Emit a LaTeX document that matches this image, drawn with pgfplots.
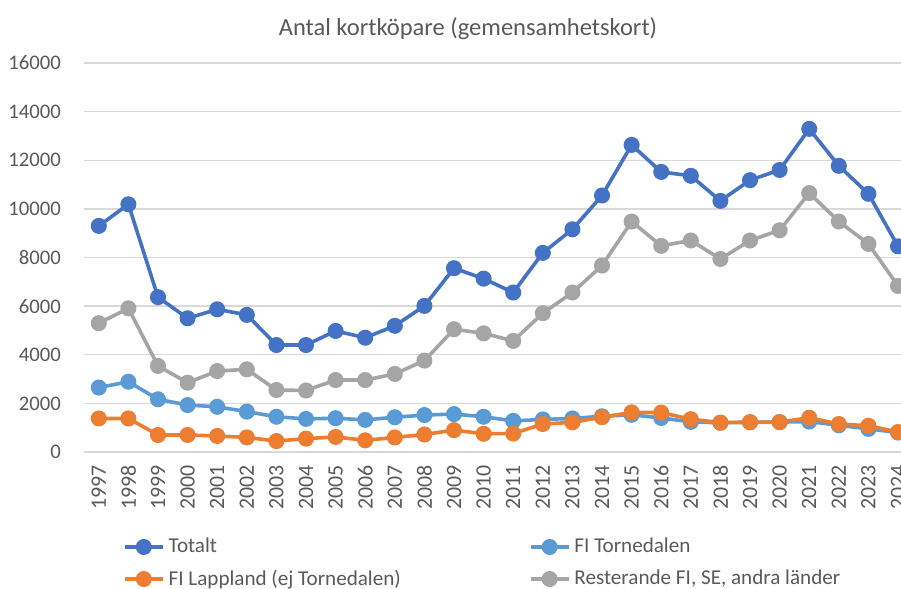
\documentclass[border=0pt]{standalone}
\usepackage{fontspec}
\setmainfont{Carlito}
\usepackage{pgfplots}
\pgfplotsset{compat=1.18}

\definecolor{cTot}{HTML}{4472C4}
\definecolor{cTor}{HTML}{5B9BD5}
\definecolor{cLap}{HTML}{ED7D31}
\definecolor{cRest}{HTML}{A5A5A5}
\definecolor{txt}{HTML}{595959}
\definecolor{grd}{HTML}{D9D9D9}

\begin{document}
\begin{tikzpicture}
\begin{axis}[
  name=ax,
  scale only axis,
  width=408.5bp, height=194.5bp,
  xmin=1996.5, xmax=2024.1,
  ymin=0, ymax=16000,
  xtick={1997,...,2024},
  ytick={0,2000,...,16000},
  scaled y ticks=false,
  axis line style={draw=none},
  tick style={draw=none},
  ymajorgrids, grid style={grd, line width=0.7bp},
  /pgf/number format/assume math mode=true,
  /pgf/number format/1000 sep={},
  ticklabel style={text=txt},
  yticklabel style={font=\fontsize{10.4}{12}\selectfont},
  xticklabel style={rotate=90, anchor=east, font=\fontsize{11}{12}\selectfont},
  xticklabel shift=3bp,
  yticklabel shift=8bp,
  title={Antal kortköpare (gemensamhetskort)},
  title style={font=\fontsize{12.3}{14}\selectfont, text=txt,
    at={(axis description cs:0.470,1)}, anchor=center, yshift=11bp},
  legend columns=2,
  legend cell align=left,
  legend style={draw=none, fill=none, font=\fontsize{10.6}{12}\selectfont, text=txt,
    at={(axis description cs:0.04,-0.20)}, anchor=north west,
    /tikz/every even column/.append style={column sep=62bp},
    row sep=3bp},
  legend image code/.code={\draw[mark repeat=2,mark phase=2,#1]
    plot coordinates {(0bp,0bp)(9.5bp,0bp)(19bp,0bp)};},
  every axis plot/.append style={line width=1.8bp, mark=*, mark size=3.1bp,
    mark options={solid}},
]
\addplot[color=cTot] coordinates {
(1997,9300)(1998,10190)(1999,6370)(2000,5500)(2001,5870)(2002,5640)(2003,4400)
(2004,4400)(2005,4980)(2006,4700)(2007,5190)(2008,6010)(2009,7560)(2010,7130)
(2011,6560)(2012,8190)(2013,9160)(2014,10550)(2015,12630)(2016,11520)(2017,11360)
(2018,10330)(2019,11180)(2020,11600)(2021,13290)(2022,11770)(2023,10620)(2024,8460)};
\addlegendentry{Totalt}
\addplot[color=cTor] coordinates {
(1997,2650)(1998,2890)(1999,2170)(2000,1930)(2001,1860)(2002,1660)(2003,1450)
(2004,1360)(2005,1390)(2006,1320)(2007,1430)(2008,1520)(2009,1560)(2010,1450)
(2011,1280)(2012,1340)(2013,1380)(2014,1470)(2015,1530)(2016,1400)(2017,1240)
(2018,1200)(2019,1220)(2020,1230)(2021,1250)(2022,1100)(2023,950)(2024,800)};
\addlegendentry{FI Tornedalen}
\addplot[color=cLap] coordinates {
(1997,1380)(1998,1380)(1999,700)(2000,700)(2001,660)(2002,600)(2003,450)
(2004,550)(2005,620)(2006,480)(2007,600)(2008,720)(2009,900)(2010,750)
(2011,760)(2012,1150)(2013,1220)(2014,1430)(2015,1630)(2016,1620)(2017,1350)
(2018,1210)(2019,1230)(2020,1230)(2021,1410)(2022,1150)(2023,1080)(2024,820)};
\addlegendentry{FI Lappland (ej Tornedalen)}
\addplot[color=cRest] coordinates {
(1997,5300)(1998,5910)(1999,3540)(2000,2850)(2001,3330)(2002,3400)(2003,2550)
(2004,2530)(2005,2960)(2006,2960)(2007,3210)(2008,3760)(2009,5050)(2010,4880)
(2011,4570)(2012,5710)(2013,6560)(2014,7670)(2015,9480)(2016,8480)(2017,8700)
(2018,7940)(2019,8700)(2020,9120)(2021,10650)(2022,9480)(2023,8560)(2024,6830)};
\addlegendentry{Resterande FI, SE, andra länder}
\end{axis}
\pgfresetboundingbox
\path[use as bounding box] ([xshift=-42bp,yshift=-68.5bp]ax.south west)
  rectangle ([yshift=31.5bp]ax.north east);
\end{tikzpicture}
\end{document}
